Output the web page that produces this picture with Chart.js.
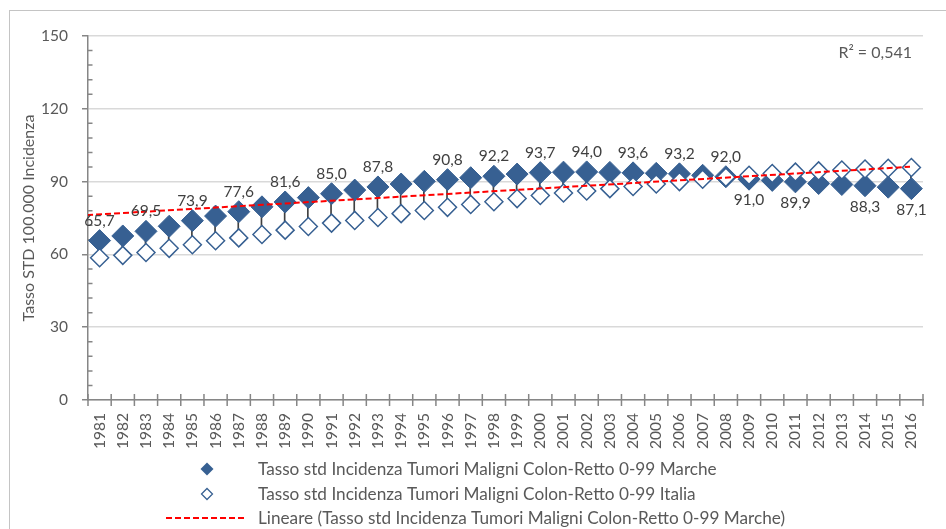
<!DOCTYPE html>
<html>
<head>
<meta charset="utf-8">
<script src="https://cdn.jsdelivr.net/npm/chart.js@4.4.1/dist/chart.umd.min.js"></script>
<style>
html,body{margin:0;padding:0;background:#fff;overflow:hidden}
#wrap{position:relative;width:946px;height:529px;overflow:hidden}
#frame{position:absolute;left:9px;top:10px;width:1000px;height:600px;border:1px solid #C4C4C4;box-sizing:border-box}
canvas{position:absolute;left:0;top:0}
</style>
</head>
<body>
<div id="wrap"><div id="frame"></div><canvas id="c" width="946" height="529"></canvas></div>
<script>
// ---- data ----
const years = ['1981','1982','1983','1984','1985','1986','1987','1988','1989','1990','1991','1992','1993','1994','1995','1996','1997','1998','1999','2000','2001','2002','2003','2004','2005','2006','2007','2008','2009','2010','2011','2012','2013','2014','2015','2016'];
const marche = [65.7,67.6,69.5,71.6,73.9,75.8,77.6,79.6,81.6,83.4,85.0,86.5,87.8,89.0,90.1,90.8,91.6,92.2,93.1,93.7,93.9,94.0,93.8,93.6,93.4,93.2,92.6,92.0,91.0,90.5,89.9,89.2,88.8,88.3,87.7,87.1];
const italia = [58.6,59.6,60.8,62.5,64.0,65.6,66.8,68.2,70.0,71.5,72.9,74.0,75.2,76.8,78.1,79.4,80.6,81.7,83.0,84.3,85.3,86.1,87.1,88.0,89.0,90.0,91.0,91.8,92.6,93.3,93.9,94.4,94.8,95.2,95.5,95.8];
const labelAboveIdx = [0,2,4,6,8,10,12,15,17,19,21,23,25,27];
const labelBelowIdx = [28,30,33,35];
const trendYears = [1980.46, 2015.94];
const trendValues = [76.2, 96.1];
const yTicks = [0,30,60,90,120,150];
const seriesNames = [
  'Tasso std Incidenza Tumori Maligni Colon-Retto 0-99 Marche',
  'Tasso std Incidenza Tumori Maligni Colon-Retto 0-99 Italia',
  'Lineare (Tasso std Incidenza Tumori Maligni Colon-Retto 0-99 Marche)'
];
const yTitle = 'Tasso STD 100.000 Incidenza';
const rSquaredText = 'R\u00B2 = 0,541';

// ---- styles ----
const FONT = 'Lato, "Open Sans", sans-serif';
const BLUE = '#376092';
const AXIS = '#868686';
const TXT = '#595959';
Chart.defaults.font.family = FONT;
Chart.defaults.color = TXT;

const fmt = v => v.toFixed(1).replace('.', ',');

const crossTicks = {
  id: 'crossTicks',
  beforeDatasetsDraw(chart) {
    const {ctx, scales: {x, y}} = chart;
    ctx.save();
    ctx.strokeStyle = AXIS;
    ctx.lineWidth = 1.5;
    const n = x.getLabels().length;
    const w = (x.right - x.left) / n;
    const base = y.getPixelForValue(0);
    ctx.beginPath();
    for (let k = 0; k <= n; k++) {
      const px = x.left + k * w;
      ctx.moveTo(px, base - 6);
      ctx.lineTo(px, base + 6);
    }
    const minorStep = 6;
    for (let v = minorStep; v < 150; v += minorStep) {
      if (v % 30 === 0) continue;
      const py = y.getPixelForValue(v);
      ctx.moveTo(y.right, py);
      ctx.lineTo(y.right + 4.5, py);
    }
    ctx.stroke();
    ctx.restore();
  }
};

const valueLabels = {
  id: 'valueLabels',
  afterDatasetsDraw(chart) {
    const {ctx} = chart;
    const meta = chart.getDatasetMeta(0);
    ctx.save();
    ctx.font = '15.5px ' + FONT;
    ctx.fillStyle = '#404040';
    ctx.textAlign = 'center';
    ctx.textBaseline = 'middle';
    labelAboveIdx.forEach(i => {
      const p = meta.data[i];
      ctx.fillText(fmt(marche[i]), p.x, p.y - 20);
    });
    labelBelowIdx.forEach(i => {
      const p = meta.data[i];
      ctx.fillText(fmt(marche[i]), p.x, p.y + 21);
    });
    ctx.restore();
  }
};

const extraText = {
  id: 'extraText',
  afterDraw(chart) {
    const {ctx, chartArea} = chart;
    ctx.save();
    ctx.font = '16px ' + FONT;
    ctx.fillStyle = TXT;
    ctx.textAlign = 'right';
    ctx.textBaseline = 'middle';
    ctx.fillText(rSquaredText, chartArea.right - 11, 53);

    // legend
    const rows = [469, 494, 518];
    const mx = 207, tx = 258;
    ctx.textAlign = 'left';
    ctx.font = '17.2px ' + FONT;
    // filled diamond
    ctx.fillStyle = BLUE;
    ctx.beginPath();
    ctx.moveTo(mx - 6.5, rows[0]); ctx.lineTo(mx, rows[0] - 6.5);
    ctx.lineTo(mx + 6.5, rows[0]); ctx.lineTo(mx, rows[0] + 6.5);
    ctx.closePath(); ctx.fill();
    // hollow diamond
    ctx.strokeStyle = BLUE; ctx.lineWidth = 1.25; ctx.fillStyle = '#fff';
    ctx.beginPath();
    ctx.moveTo(mx - 5.5, rows[1]); ctx.lineTo(mx, rows[1] - 5.5);
    ctx.lineTo(mx + 5.5, rows[1]); ctx.lineTo(mx, rows[1] + 5.5);
    ctx.closePath(); ctx.fill(); ctx.stroke();
    // dashed line
    ctx.strokeStyle = '#FF0000'; ctx.lineWidth = 2; ctx.setLineDash([6, 3]);
    ctx.beginPath(); ctx.moveTo(166, rows[2]); ctx.lineTo(246, rows[2]); ctx.stroke();
    ctx.setLineDash([]);
    ctx.fillStyle = TXT;
    const ds = chart.data.datasets;
    [ds[0].label, ds[1].label, ds[2].label].forEach((t, i) => ctx.fillText(t, tx, rows[i]));
    ctx.restore();
  }
};

new Chart(document.getElementById('c'), {
  type: 'line',
  data: {
    labels: years,
    datasets: [
      {
        label: seriesNames[0],
        data: marche,
        showLine: false,
        pointStyle: 'rectRot',
        pointRadius: 11,
        pointBackgroundColor: BLUE,
        pointBorderColor: BLUE,
        pointBorderWidth: 1,
        order: 2
      },
      {
        label: seriesNames[1],
        data: italia,
        showLine: false,
        pointStyle: 'rectRot',
        pointRadius: 9,
        pointBackgroundColor: '#FFFFFF',
        pointBorderColor: BLUE,
        pointBorderWidth: 1.5,
        order: 1
      },
      {
        label: seriesNames[2],
        xAxisID: 'xt',
        data: trendYears.map((x, i) => ({x: x, y: trendValues[i]})),
        borderColor: '#FF0000',
        borderWidth: 2,
        borderDash: [6, 3],
        pointRadius: 0,
        fill: false,
        order: 0
      },
      {
        type: 'bar',
        label: 'high-low',
        data: marche.map((m, i) => [italia[i], m]),
        backgroundColor: '#404040',
        barThickness: 1,
        order: 3
      }
    ]
  },
  options: {
    responsive: false,
    animation: false,
    events: [],
    layout: {padding: {left: 0, top: 36, right: 23, bottom: 0}},
    plugins: {legend: {display: false}, tooltip: {enabled: false}},
    scales: {
      x: {
        type: 'category',
        offset: true,
        grid: {display: false, drawTicks: false},
        border: {display: true, color: AXIS, width: 1.5},
        ticks: {autoSkip: false, maxRotation: 90, minRotation: 90, padding: 13, color: TXT, font: {size: 15.5}},
        afterFit(s) { s.height = 129; }
      },
      xt: {
        type: 'linear',
        display: false,
        min: 1980.5,
        max: 2016.5
      },
      y: {
        min: 0,
        max: 150,
        afterBuildTicks(s) { s.ticks = yTicks.map(v => ({value: v})); },
        ticks: {padding: 14, color: TXT, font: {size: 15.5}},
        grid: {color: '#D9D9D9', lineWidth: 1.5, drawTicks: true, tickLength: 6, tickColor: AXIS, tickWidth: 1.5},
        border: {display: true, color: AXIS, width: 1.5},
        title: {display: true, text: yTitle, color: TXT, font: {size: 16}, padding: {top: 19, bottom: 0}},
        afterFit(s) { s.width = 88; }
      }
    }
  },
  plugins: [crossTicks, valueLabels, extraText]
});
</script>
</body>
</html>
